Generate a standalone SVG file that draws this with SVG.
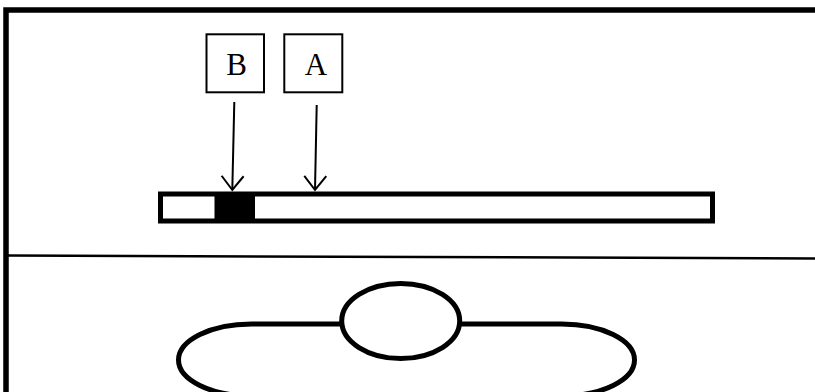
<svg xmlns="http://www.w3.org/2000/svg" width="815" height="392" viewBox="0 0 815 392">
<style>
.lbl{font-family:"Liberation Serif","Times New Roman",serif;font-size:31px;fill:#000}
.box{fill:#fff;stroke:#000;stroke-width:2}
.conn{stroke:#000;stroke-width:2;fill:none}
.thick{stroke:#000;stroke-width:5;fill:#fff}
</style>
<defs>
<marker id="vhead" markerUnits="userSpaceOnUse" markerWidth="30" markerHeight="30" refX="15" refY="15" orient="auto" viewBox="0 0 30 30">
<path d="M1,4 L15,15 L1,26" fill="none" stroke="#000" stroke-width="2"/>
</marker>
</defs>
<g id="frame">
<path d="M6,392 L6,10 L815,10" fill="none" stroke="#000" stroke-width="5.5"/>
<line x1="8" y1="255.5" x2="815" y2="258.5" stroke="#000" stroke-width="2.5"/>
</g>
<g id="bar">
<rect x="160.5" y="194" width="552" height="27" class="thick"/>
<rect x="214.5" y="194" width="40.5" height="27" fill="#000"/>
</g>
<g id="nodeB">
<rect x="206.5" y="34.3" width="57.5" height="58" class="box"/>
<text x="236.5" y="74.5" class="lbl" text-anchor="middle">B</text>
</g>
<g id="nodeA">
<rect x="284.3" y="34.3" width="58" height="58" class="box"/>
<text x="316" y="74.5" class="lbl" text-anchor="middle">A</text>
</g>
<g id="connectors">
<line x1="234.3" y1="102" x2="232.3" y2="190" class="conn" marker-end="url(#vhead)"/>
<line x1="316.7" y1="105" x2="315" y2="190" class="conn" marker-end="url(#vhead)"/>
</g>
<g id="loop">
<rect x="178.5" y="324" width="456" height="72" rx="73" ry="36" class="thick"/>
<ellipse cx="400.7" cy="321" rx="59" ry="37.5" class="thick"/>
</g>
</svg>
